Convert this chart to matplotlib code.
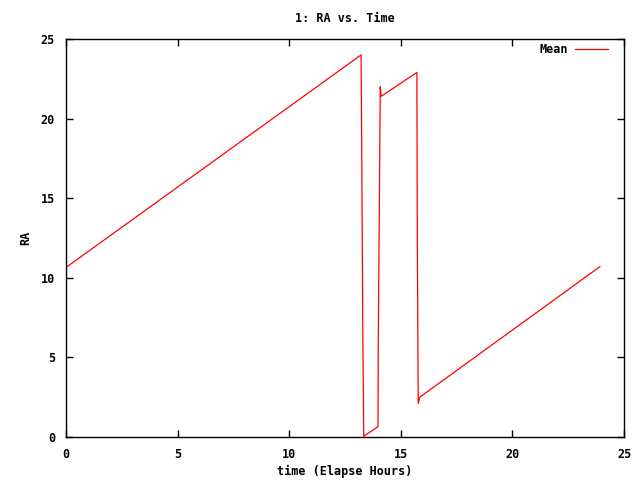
import matplotlib
matplotlib.use("Agg")
import matplotlib.pyplot as plt

# Breakpoints of the "Mean" RA curve (time in elapse hours, RA in hours)
time_h = [0.0, 13.22, 13.25, 13.30, 13.34, 13.98, 13.99, 14.05, 14.08, 14.12,
          15.72, 15.74, 15.78, 15.85, 23.92]
ra_h = [10.65, 24.0, 18.0, 6.0, 0.05, 0.65, 6.0, 16.6, 22.0, 21.4,
        22.9, 12.5, 2.1, 2.5, 10.7]

xticks = [0, 5, 10, 15, 20, 25]
yticks = [0, 5, 10, 15, 20, 25]

font = {"family": "DejaVu Sans Mono", "weight": "bold", "size": 8.5}

fig = plt.figure(figsize=(6.4, 4.8), dpi=100)
ax = fig.add_axes([66/640, 43/480, 558/640, 398/480])
ax.plot(time_h, ra_h, color="#ff0000", linewidth=0.9, label="Mean")
ax.set_xlim(0, 25)
ax.set_ylim(0, 25)
ax.set_xticks(xticks)
ax.set_yticks(yticks)
ax.set_xticklabels([str(t) for t in xticks], fontdict=font)
ax.set_yticklabels([str(t) for t in yticks], fontdict=font)
ax.tick_params(direction="in", length=5, width=1, top=True, right=True, pad=8, colors="black")
for s in ax.spines.values():
    s.set_linewidth(1)
ax.set_title("1: RA vs. Time", fontdict=font, pad=12)
ax.set_xlabel("time (Elapse Hours)", fontdict=font, labelpad=3)
ax.set_ylabel("RA", fontdict=font, labelpad=6)
leg = ax.legend(loc="upper right", frameon=False, prop=font, markerfirst=False,
                handlelength=2.8, borderaxespad=0, borderpad=0, handletextpad=0.6,
                bbox_to_anchor=(0.971, 0.99))
fig.savefig("out.png", dpi=100)
